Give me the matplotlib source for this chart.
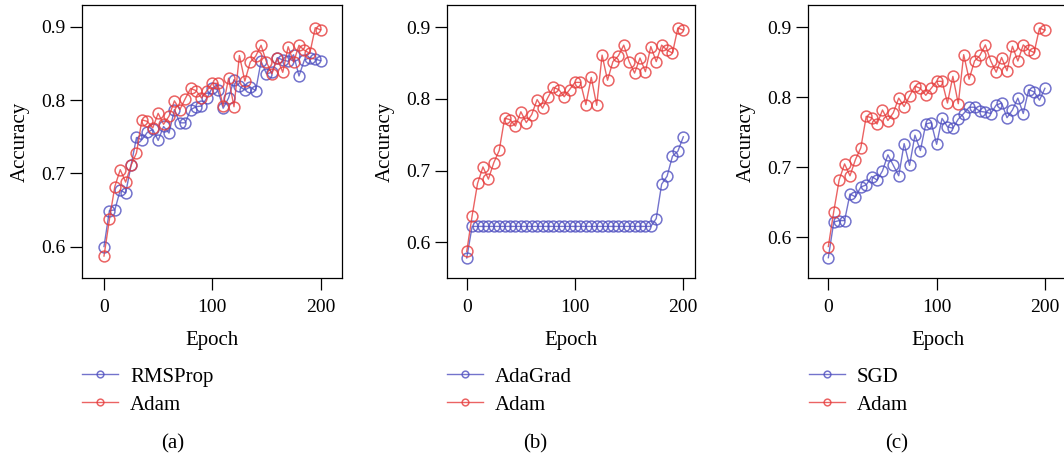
import matplotlib
matplotlib.use("Agg")
import matplotlib.pyplot as plt
import numpy as np

plt.rcParams['font.family'] = ['Liberation Serif', 'DejaVu Serif']
plt.rcParams['font.size'] = 15

epochs = np.arange(0, 201, 5)

adam = [0.587, 0.637, 0.682, 0.705, 0.688, 0.711, 0.728, 0.773, 0.771, 0.762,
        0.782, 0.767, 0.778, 0.799, 0.787, 0.802, 0.816, 0.813, 0.803, 0.813,
        0.823, 0.823, 0.792, 0.830, 0.791, 0.861, 0.826, 0.852, 0.860, 0.875,
        0.852, 0.836, 0.857, 0.838, 0.873, 0.852, 0.875, 0.868, 0.864, 0.899,
        0.896]

rmsprop = [0.600, 0.649, 0.650, 0.677, 0.673, 0.711, 0.749, 0.746, 0.756, 0.760,
           0.745, 0.764, 0.755, 0.787, 0.769, 0.769, 0.787, 0.791, 0.792, 0.803,
           0.817, 0.814, 0.789, 0.803, 0.828, 0.819, 0.814, 0.818, 0.813, 0.853,
           0.836, 0.838, 0.858, 0.855, 0.853, 0.862, 0.833, 0.855, 0.858, 0.856,
           0.854]

adagrad = [0.578] + [0.622] * 34 + [0.633, 0.681, 0.692, 0.720, 0.727, 0.747]

sgd = [0.571, 0.622, 0.624, 0.624, 0.662, 0.658, 0.672, 0.675, 0.687, 0.682,
       0.695, 0.718, 0.703, 0.688, 0.734, 0.703, 0.746, 0.724, 0.762, 0.764,
       0.733, 0.770, 0.758, 0.756, 0.769, 0.777, 0.786, 0.786, 0.780, 0.779,
       0.777, 0.789, 0.792, 0.771, 0.782, 0.799, 0.777, 0.811, 0.808, 0.796,
       0.813]

names = ['RMSProp', 'AdaGrad', 'SGD']
others = [rmsprop, adagrad, sgd]
captions = ['(a)', '(b)', '(c)']

W, H = 1064, 458
# pixel boxes: left, right, top, bottom
boxes = [(82, 342, 5, 278), (446.7, 695, 5, 278), (808.3, 1068.3, 5, 278)]
xlims = [(-20.3, 219.7), (-18.5, 210.8), (-18.5, 221.6)]
ylims = [(0.557, 0.930), (0.550, 0.931), (0.542, 0.932)]
legend_x = [82, 447, 809]
caption_x = [173, 535, 897]

blue = '#5050c0'
red = '#e63c3c'

fig = plt.figure(figsize=(W / 100, H / 100), dpi=100)

for i in range(3):
    l, r, t, b = boxes[i]
    ax = fig.add_axes([l / W, 1 - b / H, (r - l) / W, (b - t) / H])
    ax.plot(epochs, others[i], color=blue, lw=1.0, marker='o', ms=7.8,
            mfc='none', mec=blue, mew=1.1, alpha=0.8, label=names[i])
    ax.plot(epochs, adam, color=red, lw=1.0, marker='o', ms=7.8,
            mfc='none', mec=red, mew=1.1, alpha=0.8, label='Adam')
    ax.set_xlim(*xlims[i])
    ax.set_ylim(*ylims[i])
    ax.set_xticks([0, 100, 200])
    ax.set_yticks([0.6, 0.7, 0.8, 0.9])
    ax.set_yticklabels(['0.6', '0.7', '0.8', '0.9'])
    ax.tick_params(direction='out', length=8.5, width=0.9, pad=3.5, labelsize=14)
    ax.tick_params(axis='x', pad=6.5)
    for s in ax.spines.values():
        s.set_linewidth(0.9)
    ax.set_xlabel('Epoch', labelpad=11)
    ax.set_ylabel('Accuracy', labelpad=8)
    ax.legend(loc='upper left', bbox_to_anchor=(legend_x[i] / W, 1 - 367 / H),
              bbox_transform=fig.transFigure, frameon=False, borderpad=0,
              borderaxespad=0, handlelength=1.75, handletextpad=0.55,
              labelspacing=0.4, markerscale=0.62)
    fig.text(caption_x[i] / W, 1 - 444 / H, captions[i], ha='center', va='center')

fig.savefig('out.png', dpi=100)
